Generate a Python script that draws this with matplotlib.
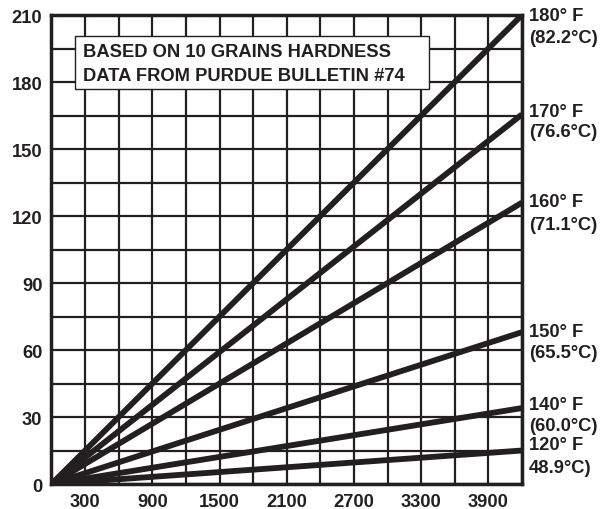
import matplotlib
matplotlib.use("Agg")
import matplotlib.pyplot as plt
from matplotlib.patches import Rectangle

plt.rcParams['font.family'] = ['Liberation Sans', 'DejaVu Sans']

x_points = [0, 4200]
temps_f = ["180° F", "170° F", "160° F", "150° F", "140° F", "120° F"]
temps_c = ["(82.2°C)", "(76.6°C)", "(71.1°C)", "(65.5°C)", "(60.0°C)", "48.9°C)"]
end_values = [210, 165.5, 126, 68, 34, 15]
label_y_f = [209.6, 167, 126.7, 68.5, 35.4, 17.5]
label_y_c = [200, 158, 116.4, 59, 26, 7.6]
x_ticks = [300, 900, 1500, 2100, 2700, 3300, 3900]
y_ticks = [0, 30, 60, 90, 120, 150, 180, 210]
note_lines = ["BASED ON 10 GRAINS HARDNESS", "DATA FROM PURDUE BULLETIN #74"]

INK = '#231f20'
FS = 13.2

fig = plt.figure(figsize=(6.03, 5.10), dpi=100)
ax = fig.add_axes([0.0854, 0.049, 0.7803, 0.9196])

for v in range(0, 4201, 300):
    ax.axvline(v, color=INK, lw=1.6, zorder=1)
for v in range(0, 211, 15):
    ax.axhline(v, color=INK, lw=1.6, zorder=1)

for ev in end_values:
    ax.plot(x_points, [0, ev], color=INK, lw=4.2, solid_capstyle='butt', zorder=3)

ax.set_xlim(0, 4200)
ax.set_ylim(0, 210)
ax.set_xticks(x_ticks)
ax.set_yticks(y_ticks)
ax.tick_params(length=0, labelsize=FS, pad=6.5, colors=INK)
for lab in ax.get_xticklabels() + ax.get_yticklabels():
    lab.set_fontweight('bold')
for s in ax.spines.values():
    s.set_linewidth(2.5)
    s.set_color(INK)

for f, c, yf, yc in zip(temps_f, temps_c, label_y_f, label_y_c):
    ax.text(4260, yf, f, fontsize=FS, fontweight='bold', color=INK,
            va='center', ha='left', clip_on=False)
    ax.text(4260, yc, c, fontsize=FS, fontweight='bold', color=INK,
            va='center', ha='left', clip_on=False)

# note box (axes coords)
ax.add_patch(Rectangle((0.05, 0.842), 0.752, 0.113, transform=ax.transAxes,
                       fc='white', ec=INK, lw=1.0, zorder=5))
for line, yb in zip(note_lines, [0.912, 0.861]):
    ax.text(0.067, yb, line, transform=ax.transAxes, fontsize=FS, fontweight='bold',
            color=INK, va='baseline', ha='left', zorder=6)

fig.savefig("out.png", dpi=100)
